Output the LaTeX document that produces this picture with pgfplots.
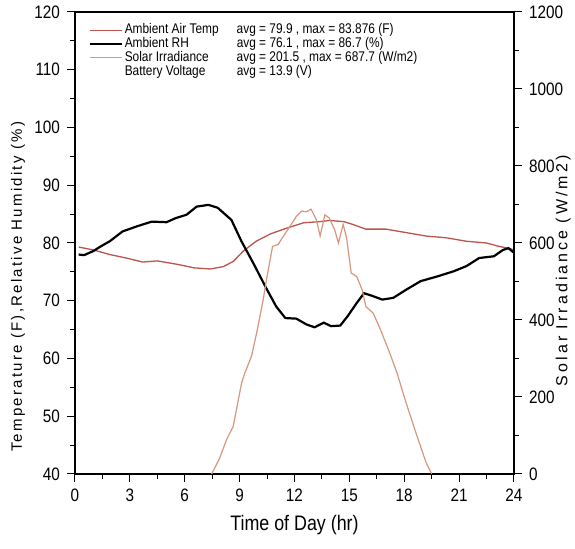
\documentclass[border=0pt]{standalone}
\usepackage{pgfplots}
\pgfplotsset{compat=1.18}
\usepackage{fontspec}
\setmainfont{Liberation Sans}[FakeStretch=0.85]
\newfontfamily\labfont{Liberation Sans}[LetterSpace=15]
\newfontfamily\rlabfont{Liberation Sans}[LetterSpace=19]
\definecolor{tempc}{RGB}{185,85,75}
\definecolor{solc}{RGB}{215,150,125}

\pgfplotstableread{
x y
0.2 78.0
0.5 77.9
1.0 78.6
1.4 79.4
1.9 80.3
2.6 82.0
3.4 82.9
4.2 83.7
5.0 83.6
5.5 84.3
6.1 84.9
6.65 86.3
7.3 86.6
7.8 86.1
8.55 84.0
9.1 80.3
9.75 76.5
10.45 72.2
11.0 69.0
11.5 67.0
12.1 66.9
12.65 65.9
13.1 65.4
13.6 66.2
14.0 65.6
14.5 65.7
14.9 67.3
15.4 69.6
15.8 71.3
16.2 70.9
16.8 70.2
17.4 70.5
18.1 71.9
18.9 73.4
19.8 74.2
20.7 75.1
21.4 76.0
22.1 77.4
22.9 77.7
23.4 78.8
23.7 79.1
24.0 78.3
}\rhdata

\pgfplotstableread{
x y
0.2 79.3
1.0 78.8
1.9 78.0
2.8 77.4
3.7 76.7
4.5 76.9
5.6 76.3
6.5 75.7
7.4 75.5
8.1 75.9
8.65 76.8
9.2 78.6
9.9 80.3
10.7 81.6
11.6 82.6
12.5 83.5
13.4 83.7
13.9 83.9
14.7 83.7
15.2 83.2
15.9 82.4
17.0 82.4
18.1 81.8
19.2 81.2
20.3 80.9
21.4 80.3
22.5 80.0
23.2 79.4
23.7 79.1
24.0 78.8
}\tempdata

\pgfplotstableread{
x y
7.47 0
7.9 40
8.29 90
8.65 124
9.11 237
9.29 263
9.65 306
9.93 366
10.29 453
10.47 505
10.8 591
11.1 596
11.4 618
11.75 643
12.1 669
12.4 683
12.66 681
12.9 688
13.2 660
13.4 618
13.66 673
13.9 665
14.2 634
14.4 600
14.66 648
14.85 613
15.1 522
15.4 513
15.7 478
15.9 435
16.3 418
16.7 375
17.2 315
17.6 263
18.1 185
18.7 98
19.2 29
19.5 0
}\soldata

\begin{document}
\begin{tikzpicture}
\useasboundingbox (-37.5pt,-37.5pt) rectangle (250pt,237pt);
\begin{axis}[
  at={(0,0)}, anchor=south west,
  scale only axis, width=219.5pt, height=231pt,
  xmin=0, xmax=24, ymin=40, ymax=120,
  xtick={0,3,...,24}, ytick={40,50,...,120},
  minor x tick num=1, minor y tick num=1,
  xtick pos=left, ytick pos=left,
  tick align=outside, major tick length=4pt, minor tick length=2.5pt,
  axis line style={line width=0.6pt},
  every tick/.style={black, line width=0.5pt},
  tick label style={font=\fontsize{9}{10}\selectfont},
  /pgf/number format/assume math mode=true,
  xlabel={Time of Day (hr)},
  xlabel style={font=\fontsize{10.5}{12}\selectfont, at={(axis description cs:0.5,-0.11)}, anchor=center},
  ylabel={Temperature (F),Relative Humidity (\%)},
  ylabel style={font=\labfont\fontsize{7.5}{9}\selectfont, at={(axis description cs:-0.13,0.405)}, anchor=center},
  legend style={draw=none, fill=none, inner sep=0pt, at={(axis description cs:0.030,0.98)}, anchor=north west,
    font=\fontsize{7}{8}\selectfont, row sep=-1.7pt, nodes={inner sep=1pt},
    /tikz/every even column/.append style={column sep=0pt}},
  legend image code/.code={\draw[#1] (0pt,0pt) -- (16pt,0pt);},
  legend cell align=left,
]
\addplot[tempc, line width=0.65pt] table {\tempdata};
\addlegendentry{\makebox[56pt][l]{Ambient Air Temp}avg = 79.9 , max = 83.876 (F)}
\addplot[black, line width=1.1pt] table {\rhdata};
\addlegendentry{\makebox[56pt][l]{Ambient RH}avg = 76.1 , max = 86.7 (\%)}
\addlegendimage{solc, line width=0.6pt}
\addlegendentry{\makebox[56pt][l]{Solar Irradiance}avg = 201.5 , max = 687.7 (W/m2)}
\addlegendimage{empty legend}
\addlegendentry{\makebox[56pt][l]{Battery Voltage}avg = 13.9 (V)}
\end{axis}
\begin{axis}[
  at={(0,0)}, anchor=south west,
  scale only axis, width=219.5pt, height=231pt,
  xmin=0, xmax=24, ymin=0, ymax=1200,
  axis y line*=right, axis x line=none,
  clip mode=individual,
  ytick={0,200,...,1200}, minor y tick num=1,
  tick align=outside, major tick length=4pt, minor tick length=2.5pt,
  axis line style={line width=0.6pt},
  every tick/.style={black, line width=0.5pt},
  tick label style={font=\fontsize{9}{10}\selectfont},
  /pgf/number format/assume math mode=true,
  /pgf/number format/1000 sep={},
]
\addplot[solc, line width=0.6pt] table {\soldata};
\node[rotate=90, anchor=center, font=\rlabfont\fontsize{8}{9}\selectfont] at (axis description cs:1.112,0.44) {Solar Irradiance (W/m2)};
\end{axis}
\end{tikzpicture}
\end{document}
